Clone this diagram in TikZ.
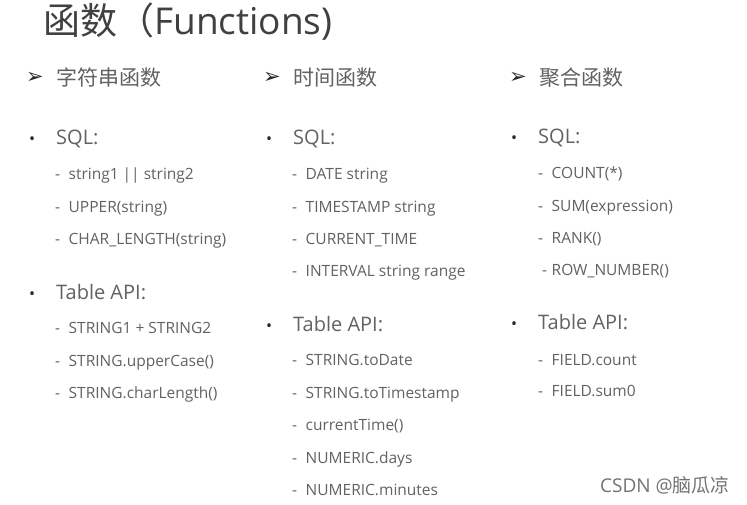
\documentclass[tikz,border=0pt]{standalone}
\usepackage{fontspec}
\setmainfont{Open Sans}
\newfontfamily\cjk{Noto Sans CJK SC}
\newfontfamily\symb{DejaVu Sans}
\usetikzlibrary{positioning}
\definecolor{titelgrau}{RGB}{64,64,64}
\definecolor{textgrau}{RGB}{98,98,98}
\definecolor{punktgrau}{RGB}{40,40,40}
\newcommand\strich{\makebox[13.5pt][l]{-}}
\newcommand\punkt{\makebox[27pt][l]{\textcolor{punktgrau}{\fontsize{16}{16}\selectfont •}}}

\begin{document}
\begin{tikzpicture}[x=1pt,y=-1pt,
    titel/.style={anchor=base west, inner sep=0pt, text=titelgrau, font=\fontsize{37}{42}\selectfont},
    kopf/.style={anchor=west, inner sep=0pt, text=textgrau, font=\cjk\fontsize{21}{24}\selectfont},
    pfeil/.style={anchor=west, inner sep=0pt, text=punktgrau, font=\symb\fontsize{21}{22}\selectfont},
    ober/.style={anchor=base west, inner sep=0pt, text=textgrau, font=\fontsize{20}{24}\selectfont},
    eintrag/.style={anchor=base west, inner sep=0pt, text=textgrau, font=\fontsize{15.5}{18}\selectfont}]

    % Hintergrund und Rahmen
    \fill[white] (0,0) rectangle (747,504);
    \useasboundingbox (0,0) rectangle (747,504);

    % Titel
    \node[titel] (titel) at (43,34) {{\cjk 函数（}Functions)};

    % Ueberschriften der drei Spalten
    \foreach \x/\t [count=\i] in {26/字符串函数, 263/时间函数, 509/聚合函数} {
        \node[pfeil] (p\i) at (\x,77.5) {➢};
        \node[kopf] (k\i) at (\x+30,77.5) {\t};
    }

    % SQL und Table API
    \foreach \x/\y [count=\i] in {29/144, 266/144, 511/143} {
        \node[ober] (s\i) at (\x,\y) {\punkt SQL:};
    }
    \foreach \x/\y [count=\i] in {29/299, 266/331, 511/329} {
        \node[ober] (t\i) at (\x,\y) {\punkt Table API:};
    }

    % Spalte 1: Zeichenketten
    \foreach \y/\t [count=\j] in {179.5/string1 || string2, 212.5/UPPER(string), 244.5/CHAR\_LENGTH(string)} {
        \node[eintrag] (s1-\j) at (55,\y) {\strich\t};
    }
    \foreach \y/\t [count=\j] in {333.5/STRING1 + STRING2, 366.5/STRING.upperCase(), 398.5/STRING.charLength()} {
        \node[eintrag] (t1-\j) at (55,\y) {\strich\t};
    }

    % Spalte 2: Zeit
    \foreach \y/\t [count=\j] in {179.5/DATE string, 212.5/TIMESTAMP string, 244.5/CURRENT\_TIME, 276.5/INTERVAL string range} {
        \node[eintrag] (s2-\j) at (292,\y) {\strich\t};
    }
    \foreach \y/\t [count=\j] in {365.5/STRING.toDate, 398.5/STRING.toTimestamp, 430.5/currentTime(), 463.5/NUMERIC.days, 495.5/NUMERIC.minutes} {
        \node[eintrag] (t2-\j) at (292,\y) {\strich\t};
    }

    % Spalte 3: Aggregation
    \foreach \y/\t [count=\j] in {178.5/COUNT(*), 211/SUM(expression), 243/RANK()} {
        \node[eintrag] (s3-\j) at (538,\y) {\strich\t};
    }
    \node[eintrag] (s3-4) at (542,275.5) {\makebox[9.5pt][l]{-}ROW\_NUMBER()};
    \foreach \y/\t [count=\j] in {365/FIELD.count, 396/FIELD.sum0} {
        \node[eintrag] (t3-\j) at (538,\y) {\strich\t};
    }

    % Wasserzeichen
    \node[anchor=west, inner sep=0pt, text=black!55, font=\fontsize{19}{22}\selectfont] (wz) at (600,485) {CSDN @{\cjk 脑瓜凉}};
\end{tikzpicture}
\end{document}
